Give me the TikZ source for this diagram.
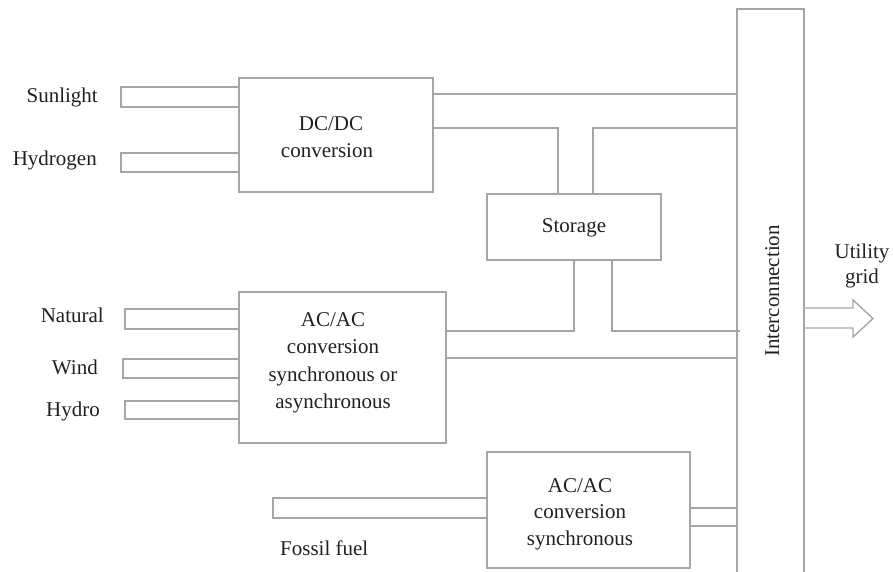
\documentclass[tikz,border=0pt]{standalone}
\usepackage{fontspec}
\setmainfont{Liberation Serif}
\usepackage{tikz}
\definecolor{linegray}{RGB}{166,166,166}
\definecolor{inkcol}{RGB}{35,31,32}
\begin{document}
\begin{tikzpicture}[x=1pt,y=-1pt,
  every node/.style={font=\fontsize{21}{26}\selectfont, text=inkcol},
  block/.style={draw=linegray, line width=1.4pt, inner sep=0pt, rectangle},
  feed/.style={draw=linegray, line width=1.4pt},
  wire/.style={draw=linegray, line width=1.4pt},
  lbl/.style={inner sep=0pt, anchor=base east},
  txt/.style={inner sep=0pt, anchor=base}]
\useasboundingbox (0,0) rectangle (893,571);
\clip (0,0) rectangle (893,571);

% converter blocks
\node[block, minimum width=194pt, minimum height=114pt] (dc) at (336,135) {};
\node[block, minimum width=174pt, minimum height=66pt] (st) at (574,227) {};
\node[block, minimum width=207pt, minimum height=151pt] (ac1) at (342.5,367.5) {};
\node[block, minimum width=203pt, minimum height=116pt] (ac2) at (588.5,510) {};
\node[block, minimum width=67pt, minimum height=600pt] (ic) at (770.5,309) {};

% block texts
\node[txt] (dct1) at (331,130) {DC/DC};
\node[txt] (dct2) at (327,157) {conversion};
\node[txt] (stt) at (574,232) {Storage};
\node[txt] (ac1t1) at (333,326) {AC/AC};
\node[txt] (ac1t2) at (333,353) {conversion};
\node[txt] (ac1t3) at (333,381) {synchronous or};
\node[txt] (ac1t4) at (333,408) {asynchronous};
\node[txt] (ac2t1) at (580,492) {AC/AC};
\node[txt] (ac2t2) at (580,518) {conversion};
\node[txt] (ac2t3) at (580,545) {synchronous};
\node[txt, rotate=90] (ict) at (779,291) {Interconnection};
\node[txt] (ug1) at (862,258) {Utility};
\node[txt] (ug2) at (862,283) {grid};

% source labels
\node[lbl] (lsun) at (98,102) {Sunlight};
\node[lbl] (lhyd) at (97,165) {Hydrogen};
\node[lbl] (lnat) at (104,322) {Natural};
\node[lbl] (lwind) at (98,374) {Wind};
\node[lbl] (lhydro) at (100,416) {Hydro};
\node[txt, anchor=base west] (lfos) at (280,555) {Fossil fuel};

% input feeds
\draw[feed] (121,87) rectangle (dc.west |- 0,107);
\draw[feed] (121,153) rectangle (dc.west |- 0,172);
\draw[feed] (125,309) rectangle (ac1.west |- 0,329);
\draw[feed] (123,359) rectangle (ac1.west |- 0,378);
\draw[feed] (125,401) rectangle (ac1.west |- 0,419);
\draw[feed] (273,498) rectangle (ac2.west |- 0,518);
\draw[feed] (ac2.east |- 0,508) rectangle (ic.west |- 0,526);

% interconnection wiring
\draw[wire] (dc.east |- 0,94) -- (ic.west |- 0,94);
\draw[wire] (dc.east |- 0,128) -| (st.north -| 558,0);
\draw[wire] (st.north -| 593,0) |- (ic.west |- 0,128);
\draw[wire] (st.south -| 574,0) |- (ac1.east |- 0,331);
\draw[wire] (st.south -| 612,0) |- ([xshift=4pt]ic.west |- 0,331);
\draw[wire] (ac1.east |- 0,358) -- (ic.west |- 0,358);

% output to the utility grid
\draw[wire, line join=miter] (ic.east |- 0,308) -- (853,308) -- (853,300) -- (873,318.5)
  -- (853,337) -- (853,328) -- (ic.east |- 0,328);
\end{tikzpicture}
\end{document}
